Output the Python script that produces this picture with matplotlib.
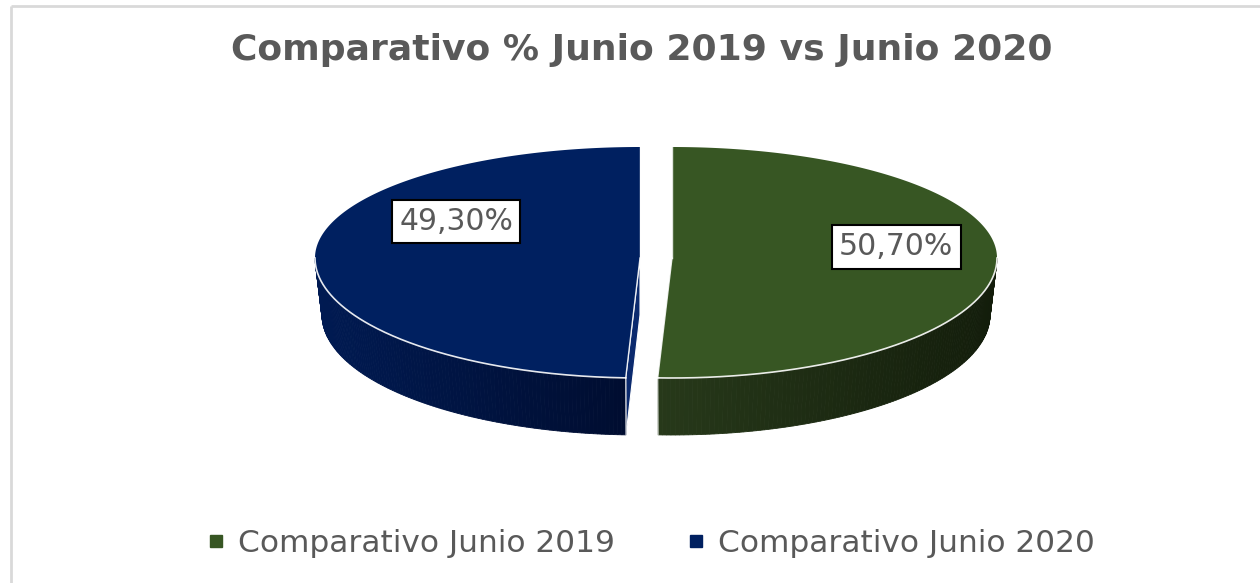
import matplotlib
matplotlib.use("Agg")
import matplotlib.pyplot as plt
import numpy as np
from matplotlib.patches import Polygon
from matplotlib.lines import Line2D
from matplotlib.colors import to_rgb

# datos del gráfico
LABELS = ["Comparativo Junio 2019", "Comparativo Junio 2020"]
VALUES = [50.70, 49.30]
VALUE_TEXT = ["50,70%", "49,30%"]
TITLE = "Comparativo % Junio 2019 vs Junio 2020"

TOP_COLORS = ["#375623", "#002060"]
SIDE_LIGHT = ["#27391a", "#001a52"]
SIDE_DARK = ["#131d0b", "#000d30"]
CUT_COLORS = ["#2a4019", "#0b2a6e"]
GREY = "#595959"

# geometría del pastel 3D (en píxeles)
W, H = 1260, 583
CX, CY = 656, 258
A = 325
B_BACK, B_FRONT = 111, 120
DEPTH = 57
SHRINK = 7
EXPLODE = 16
# posición de las etiquetas relativa al centro de cada porción
LABEL_POS = [(0.69, -0.10), (-0.565, -0.33)]


def rim(cx, theta, level=0):
    """punto del borde: theta en grados, sentido horario desde las 12"""
    t = np.radians(theta)
    s, c = np.sin(t), np.cos(t)
    b = np.where(c > 0, B_BACK, B_FRONT)
    a = A - SHRINK * level
    return cx + a * s, CY - b * c + DEPTH * level


def mix(c1, c2, f):
    c1, c2 = np.array(to_rgb(c1)), np.array(to_rgb(c2))
    return tuple(c1 + (c2 - c1) * f)


fig = plt.figure(figsize=(W / 100, H / 100), dpi=100)
ax = fig.add_axes([0, 0, 1, 1])
ax.set_xlim(0, W)
ax.set_ylim(H, 0)
ax.axis("off")

# marco del área del gráfico
ax.plot([11, 11], [H, 6], color="#d9d9d9", lw=2, solid_capstyle="butt")
ax.plot([11, W], [6, 6], color="#d9d9d9", lw=2, solid_capstyle="butt")

total = sum(VALUES)
start = 0.0
for i, v in enumerate(VALUES):
    span = 360 * v / total
    t0, t1 = start, start + span
    start = t1
    mid = (t0 + t1) / 2
    cx = CX + EXPLODE * np.sin(np.radians(mid))

    # caras de corte visibles
    for t, normal_front in [(t0, np.sin(np.radians(t0)) < -1e-6),
                            (t1, np.sin(np.radians(t1)) > 1e-6)]:
        if not normal_front:
            continue
        xt, yt = rim(cx, t)
        xb, yb = rim(cx, t, 1)
        ax.add_patch(Polygon([(cx, CY), (xt, yt), (xb, yb), (cx, CY + DEPTH)],
                             closed=True, facecolor=CUT_COLORS[i], edgecolor="white", lw=0.8))

    # pared lateral (solo la parte frontal)
    lo, hi = max(t0, 90), min(t1, 270)
    if hi > lo:
        th = np.linspace(lo, hi, 120)
        xs, ys = rim(cx, th)
        xb, yb = rim(cx, th, 1)
        xmin, xmax = xs.min(), xs.max()
        for k in range(len(th) - 1):
            f = ((xs[k] + xs[k + 1]) / 2 - xmin) / max(xmax - xmin, 1)
            col = mix(SIDE_LIGHT[i], SIDE_DARK[i], f)
            ax.add_patch(Polygon([(xs[k], ys[k]), (xs[k + 1], ys[k + 1]),
                                  (xb[k + 1], yb[k + 1]), (xb[k], yb[k])],
                                 closed=True, facecolor=col, edgecolor=col, lw=0.6))
        # aristas verticales en los cortes
        for kk in [0, -1]:
            if th[kk] in (t0, t1) and th[kk] not in (90, 270):
                ax.plot([xs[kk], xb[kk]], [ys[kk], yb[kk]], color="white", lw=0.9, alpha=0.8)

    # cara superior
    th = np.linspace(t0, t1, 300)
    xs, ys = rim(cx, th)
    pts = [(cx, CY)] + list(zip(xs, ys))
    ax.add_patch(Polygon(pts, closed=True, facecolor=TOP_COLORS[i], edgecolor="none"))
    ax.plot([cx, xs[0]], [CY, ys[0]], color="white", lw=1.0, alpha=0.85)
    ax.plot([cx, xs[-1]], [CY, ys[-1]], color="white", lw=1.0, alpha=0.85)
    if hi > lo:
        fx, fy = rim(cx, np.linspace(lo, hi, 200))
        ax.plot(fx, fy, color="white", lw=1.2, alpha=0.9)

    # etiqueta de datos
    px, py = LABEL_POS[i]
    lx = cx + px * A
    ly = CY + py * (B_BACK if py < 0 else B_FRONT)
    ax.text(lx, ly, VALUE_TEXT[i], ha="center", va="center", fontsize=21.5, color=GREY,
            bbox=dict(boxstyle="square,pad=0.24", facecolor="white", edgecolor="black", lw=1.5))

ax.text(642, 50, TITLE, ha="center", va="center", fontsize=26, fontweight="bold", color=GREY)

handles = [Line2D([0], [0], marker="s", ls="none", markersize=9,
                  markerfacecolor=c, markeredgecolor=c) for c in TOP_COLORS]
ax.legend(handles, LABELS, loc="center", bbox_to_anchor=(649 / W, 1 - 543 / H), ncol=2,
          frameon=False, fontsize=22.5, labelcolor=GREY, handletextpad=0.3,
          columnspacing=2.2, handlelength=0.8)

fig.savefig("out.png", dpi=100, facecolor="white")
